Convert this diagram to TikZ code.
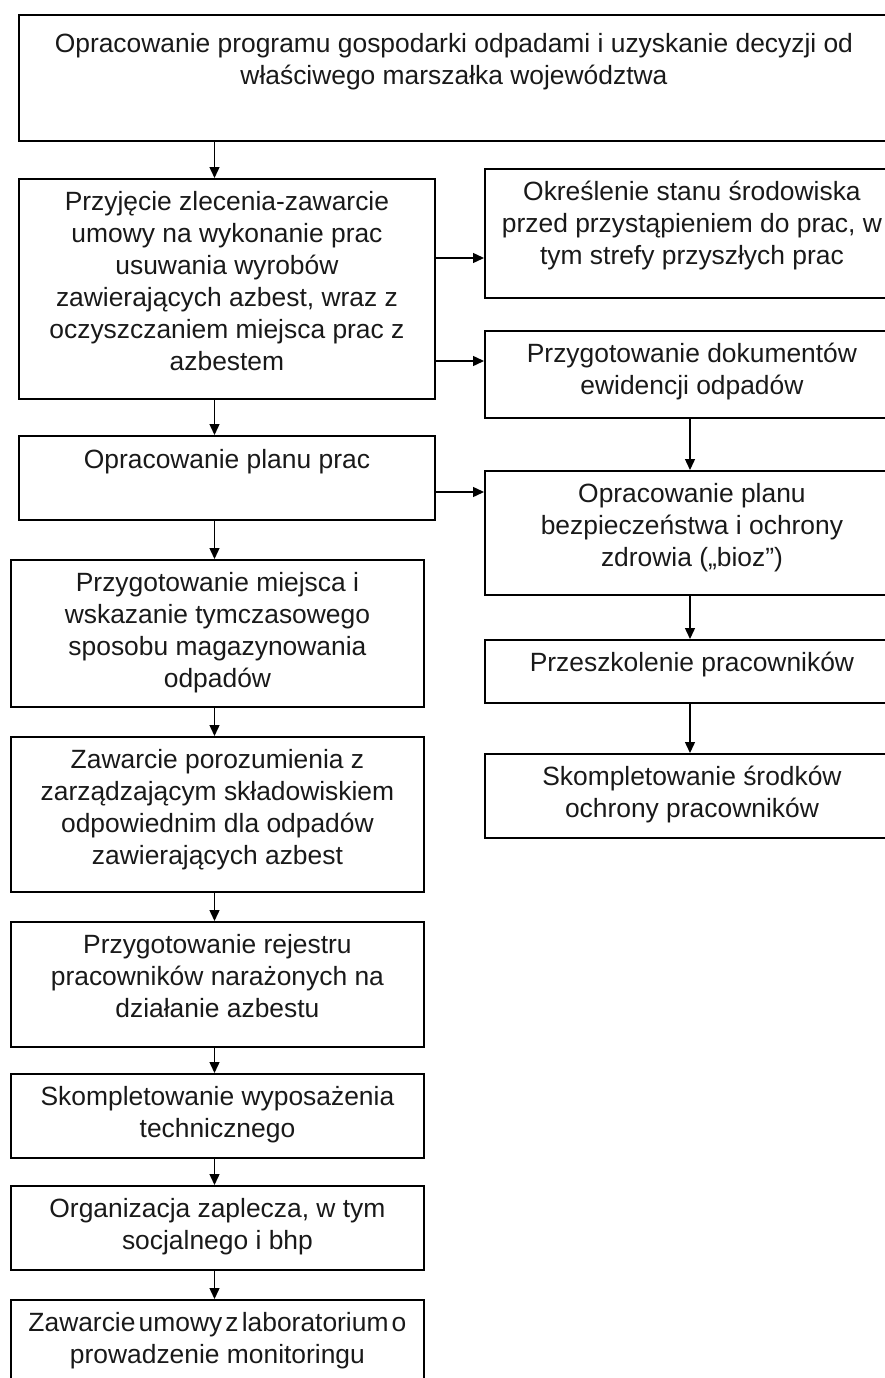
\documentclass[tikz,border=0pt]{standalone}
\usepackage{fontspec}
\setmainfont{Liberation Sans}
\usetikzlibrary{arrows.meta}
\begin{document}
\begin{tikzpicture}[x=1pt,y=-1pt,
  box/.style={draw=black, line width=1.9pt, inner sep=0pt, anchor=north west},
  txt/.style={font=\fontsize{26.4}{32}\selectfont, text=black!90, align=center, inner sep=0pt, anchor=north},
  arr/.style={line width=1.4pt, -{Triangle[length=11pt,width=10pt]}}]
\useasboundingbox (0,0) rectangle (885,1378);
\clip (0,0) rectangle (885,1378);
% boxes
\node[box, minimum width=870pt, minimum height=126pt] (b1) at (18,14) {};
\node[box, minimum width=416pt, minimum height=220pt] (b2) at (18,178) {};
\node[box, minimum width=414pt, minimum height=129pt] (r1) at (484,168) {};
\node[box, minimum width=414pt, minimum height=87pt] (r2) at (484,330) {};
\node[box, minimum width=416pt, minimum height=84pt] (b3) at (18,435) {};
\node[box, minimum width=414pt, minimum height=124pt] (r3) at (484,470) {};
\node[box, minimum width=413pt, minimum height=147pt] (b4) at (10,559) {};
\node[box, minimum width=414pt, minimum height=63pt] (r4) at (484,639) {};
\node[box, minimum width=413pt, minimum height=155pt] (b5) at (10,736) {};
\node[box, minimum width=414pt, minimum height=84pt] (r5) at (484,753) {};
\node[box, minimum width=413pt, minimum height=125pt] (b6) at (10,921) {};
\node[box, minimum width=413pt, minimum height=84pt] (b7) at (10,1073) {};
\node[box, minimum width=413pt, minimum height=84pt] (b8) at (10,1185) {};
\node[box, minimum width=413pt, minimum height=100pt] (b9) at (10,1299) {};
% texts
\node[txt] (t1) at ([yshift=-16pt]b1.north) {\strut Opracowanie programu gospodarki odpadami i uzyskanie decyzji od\\właściwego marszałka województwa};
\node[txt] (t2) at ([yshift=-10pt]b2.north) {\strut Przyjęcie zlecenia-zawarcie\\umowy na wykonanie prac\\usuwania wyrobów\\zawierających azbest, wraz z\\oczyszczaniem miejsca prac z\\azbestem};
\node[txt] (tr1) at ([yshift=-10pt]r1.north) {\strut Określenie stanu środowiska\\przed przystąpieniem do prac, w\\tym strefy przyszłych prac};
\node[txt] (tr2) at ([yshift=-10pt]r2.north) {\strut Przygotowanie dokumentów\\ewidencji odpadów};
\node[txt] (t3) at ([yshift=-11pt]b3.north) {\strut Opracowanie planu prac};
\node[txt] (tr3) at ([yshift=-10pt]r3.north) {\strut Opracowanie planu\\bezpieczeństwa i ochrony\\zdrowia („bioz”)};
\node[txt] (t4) at ([yshift=-10pt]b4.north) {\strut Przygotowanie miejsca i\\wskazanie tymczasowego\\sposobu magazynowania\\odpadów};
\node[txt] (tr4) at ([yshift=-10pt]r4.north) {\strut Przeszkolenie pracowników};
\node[txt] (t5) at ([yshift=-10pt]b5.north) {\strut Zawarcie porozumienia z\\zarządzającym składowiskiem\\odpowiednim dla odpadów\\zawierających azbest};
\node[txt] (tr5) at ([yshift=-10pt]r5.north) {\strut Skompletowanie środków\\ochrony pracowników};
\node[txt] (t6) at ([yshift=-10pt]b6.north) {\strut Przygotowanie rejestru\\pracowników narażonych na\\działanie azbestu};
\node[txt] (t7) at ([yshift=-10pt]b7.north) {\strut Skompletowanie wyposażenia\\technicznego};
\node[txt] (t8) at ([yshift=-10pt]b8.north) {\strut Organizacja zaplecza, w tym\\socjalnego i bhp};
\node[txt] (t9) at ([yshift=-10pt]b9.north) {\strut\spaceskip=0.12em Zawarcie umowy z laboratorium o\\prowadzenie monitoringu};
% helper coordinates
\coordinate (ax) at (214.5,0);
\coordinate (rx) at (690,0);
\coordinate (h1) at (0,258);
\coordinate (h2) at (0,361);
\coordinate (h3) at (0,492);
% arrows
\draw[arr] (b1.south -| ax) -- (b2.north -| ax);
\draw[arr] (b2.south -| ax) -- (b3.north -| ax);
\draw[arr] (b3.south -| ax) -- (b4.north -| ax);
\draw[arr] (b4.south -| ax) -- (b5.north -| ax);
\draw[arr] (b5.south -| ax) -- (b6.north -| ax);
\draw[arr] (b6.south -| ax) -- (b7.north -| ax);
\draw[arr] (b7.south -| ax) -- (b8.north -| ax);
\draw[arr] (b8.south -| ax) -- (b9.north -| ax);
\draw[arr] (b2.east |- h1) -- (r1.west |- h1);
\draw[arr] (b2.east |- h2) -- (r2.west |- h2);
\draw[arr] (b3.east |- h3) -- (r3.west |- h3);
\draw[arr] (r2.south -| rx) -- (r3.north -| rx);
\draw[arr] (r3.south -| rx) -- (r4.north -| rx);
\draw[arr] (r4.south -| rx) -- (r5.north -| rx);
\end{tikzpicture}
\end{document}
